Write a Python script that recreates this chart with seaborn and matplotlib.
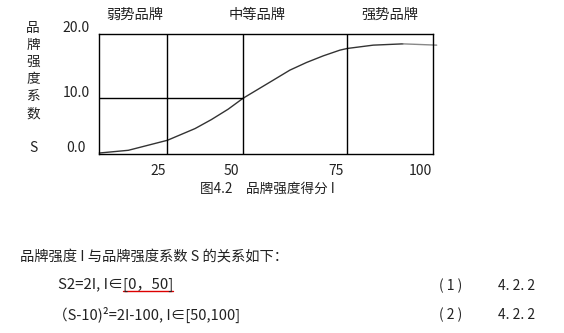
import matplotlib
matplotlib.use("Agg")
import matplotlib.pyplot as plt
import seaborn as sns
import pandas as pd

# ---- data ----
curve_I = [0.0, 8.7, 20.4, 28.7, 33.6, 38.6, 43.1, 47.1, 52.1, 57.1, 62.1, 67.1, 72.1, 74.3, 82.1, 91.0]
curve_S = [0.14, 0.63, 2.43, 4.54, 6.16, 8.02, 10.0, 11.44, 13.24, 15.05, 16.43, 17.62, 18.65, 18.95, 19.55, 19.78]
tail_I = [91.0, 101.1]
tail_S = [19.78, 19.55]

boundary_I = [20.4, 43.1, 74.3]       # vertical divider lines
mid_level_S = 10.0                    # horizontal line up to I = 43.1
mid_level_I = 43.1

region_labels = ["弱势品牌", "中等品牌", "强势品牌"]
xtick_labels = ["25", "50", "75", "100"]
xtick_pos = [17.7, 39.7, 71.1, 96.3]
ytick_labels = ["20.0", "10.0", "0.0"]
ylabel_chars = list("品牌强度系数")

caption = "图4.2\u3000品牌强度得分 I"
para = "品牌强度 I 与品牌强度系数 S 的关系如下："
formula1 = "S2=2I, I∈[0，50]"
formula2 = "（S-10)²=2I-100, I∈[50,100]"
eq_nums = ["( 1 )", "( 2 )"]
eq_refs = ["4. 2. 2", "4. 2. 2"]

# ---- style ----
sns.set_style("white")
plt.rcParams["font.family"] = ["Noto Sans CJK SC", "DejaVu Sans"]
plt.rcParams["axes.unicode_minus"] = False

W, H = 564, 333
fig = plt.figure(figsize=(W / 100, H / 100), dpi=100)
ax = fig.add_axes([99.3 / W, 1 - 153.8 / H, (433 - 99.3) / W, (153.8 - 34.3) / H])

df_main = pd.DataFrame({"I": curve_I, "S": curve_S})
df_tail = pd.DataFrame({"I": tail_I, "S": tail_S})
sns.lineplot(data=df_main, x="I", y="S", ax=ax, color="#333333", linewidth=1.0,
             clip_on=False, estimator=None, sort=False)
sns.lineplot(data=df_tail, x="I", y="S", ax=ax, color="#888888", linewidth=1.0,
             clip_on=False, estimator=None, sort=False)

for xb in boundary_I:
    ax.axvline(xb, color="black", linewidth=1.0)
ax.plot([0, mid_level_I], [mid_level_S, mid_level_S], color="black", linewidth=1.0)

ax.set_xlim(0, 100)
ax.set_ylim(0, 21.5)
for sp in ax.spines.values():
    sp.set_visible(True)
    sp.set_color("black")
    sp.set_linewidth(1.0)

ax.set_xticks(xtick_pos)
ax.set_xticklabels(xtick_labels, fontsize=10, color="#222222")
ax.tick_params(axis="x", length=0, pad=7)
ax.set_yticks([])
ax.set_xlabel("")
ax.set_ylabel("")

TXT = "#222222"

def ftext(x, y, s, **kw):
    kw.setdefault("color", TXT)
    kw.setdefault("ha", "center")
    kw.setdefault("va", "center")
    return fig.text(x / W, 1 - y / H, s, **kw)

# region labels above the box
for (cx, lab) in zip([135, 257, 390], region_labels):
    ftext(cx, 15, lab, fontsize=10.3)

# y tick labels
for (yy, lab) in zip([28.3, 93.3, 148.3], ytick_labels):
    ftext(76, yy, lab, fontsize=10)

# vertical y label
for i, ch in enumerate(ylabel_chars):
    ftext(33, 28 + i * 17, ch, fontsize=9.8)
ftext(33, 148, "S", fontsize=10)

# caption
ftext(267.5, 189, caption, fontsize=9.8)

# paragraph and formulas
ftext(20, 257, para, fontsize=10.3, ha="left")
ftext(58, 285, formula1, fontsize=10.8, ha="left")
ftext(53, 315, formula2, fontsize=10.5, ha="left")
fig.lines.append(plt.Line2D([123 / W, 173 / W], [1 - 291 / H, 1 - 291 / H],
                            transform=fig.transFigure, color="#dd0000", linewidth=1.0))
for (yy, n, r) in zip([286, 315], eq_nums, eq_refs):
    ftext(451, yy, n, fontsize=10)
    ftext(517, yy, r, fontsize=10)

fig.savefig("out.png", dpi=100, facecolor="white")
